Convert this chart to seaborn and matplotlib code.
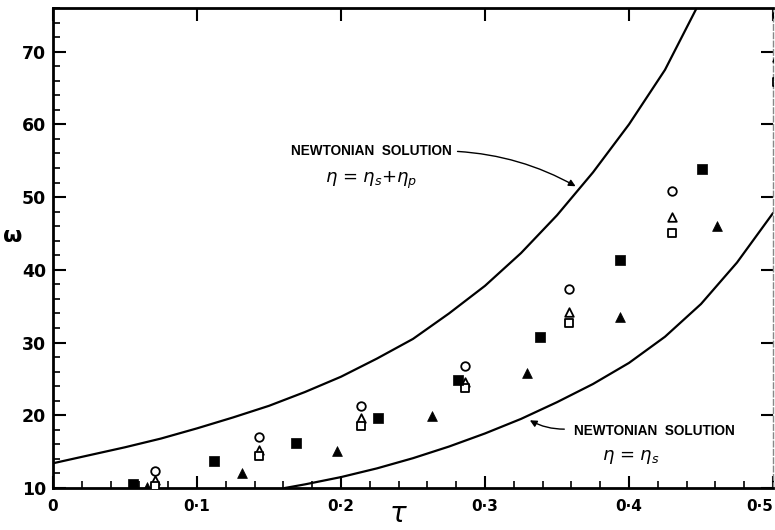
import numpy as np
import pandas as pd
import matplotlib
matplotlib.use("Agg")
import matplotlib.pyplot as plt
import seaborn as sns

# ---- data ----
upper_tau = [0.000, 0.025, 0.050, 0.075, 0.100, 0.125, 0.150, 0.175, 0.200, 0.225,
             0.250, 0.275, 0.300, 0.325, 0.350, 0.375, 0.400, 0.425, 0.447]
upper_w = [13.4, 14.5, 15.6, 16.8, 18.2, 19.7, 21.3, 23.2, 25.3, 27.8,
           30.5, 34.0, 37.8, 42.3, 47.5, 53.4, 60.0, 67.5, 76.0]

lower_tau = [0.161, 0.175, 0.200, 0.225, 0.250, 0.275, 0.300, 0.325, 0.350, 0.375,
             0.400, 0.425, 0.450, 0.475, 0.500]
lower_w = [10.0, 10.5, 11.5, 12.7, 14.1, 15.7, 17.5, 19.5, 21.8, 24.3,
           27.2, 30.8, 35.3, 41.0, 47.8]

open_tau = [0.071, 0.143, 0.214, 0.286, 0.358, 0.430, 0.503]
circle_w = [12.3, 17.0, 21.3, 26.8, 37.3, 50.8, 75.0]
otri_w = [11.1, 15.2, 19.6, 24.6, 34.2, 47.2, 69.3]
osq_w = [10.3, 14.4, 18.5, 23.8, 32.7, 45.1, 65.8]

fsq_tau = [0.0556, 0.112, 0.169, 0.226, 0.281, 0.338, 0.394, 0.451]
fsq_w = [10.55, 13.7, 16.2, 19.6, 24.9, 30.8, 41.4, 53.9]

ftri_tau = [0.065, 0.131, 0.197, 0.263, 0.329, 0.394, 0.461]
ftri_w = [10.1, 12.1, 15.1, 19.9, 25.8, 33.5, 46.0]

xticks = [0, 0.1, 0.2, 0.3, 0.4, 0.5]
xticklabels = ["0", "0·1", "0·2", "0·3", "0·4", "0·5"]
yticks = [10, 20, 30, 40, 50, 60, 70]

# ---- figure ----
sns.set_style("ticks")
plt.rcParams['font.family'] = ['DejaVu Sans']
for k in ["text.color", "axes.labelcolor", "xtick.color", "ytick.color", "axes.edgecolor"]:
    plt.rcParams[k] = "black"

fig = plt.figure(figsize=(7.75, 5.30), dpi=100)
ax = fig.add_axes([53/775, 42/530, 720/775, 480/530])

sns.lineplot(x=upper_tau, y=upper_w, ax=ax, color="black", lw=1.6, sort=False)
sns.lineplot(x=lower_tau, y=lower_w, ax=ax, color="black", lw=1.6, sort=False)

ms = 38
common = dict(ax=ax, s=ms, legend=False, zorder=3, clip_on=True)
sns.scatterplot(x=open_tau, y=circle_w, marker="o", facecolor="white",
                edgecolor="black", linewidth=1.3, **common)
sns.scatterplot(x=open_tau, y=otri_w, marker="^", facecolor="white",
                edgecolor="black", linewidth=1.3, **common)
sns.scatterplot(x=open_tau, y=osq_w, marker="s", facecolor="white",
                edgecolor="black", linewidth=1.3, **common)
sns.scatterplot(x=fsq_tau, y=fsq_w, marker="s", color="black",
                edgecolor="black", linewidth=0.5, s=46, ax=ax, legend=False, zorder=3)
sns.scatterplot(x=ftri_tau, y=ftri_w, marker="^", color="black",
                edgecolor="black", linewidth=0.5, s=50, ax=ax, legend=False, zorder=3)

ax.set_xlim(0, 0.5)
ax.set_ylim(10, 76)
ax.set_xticks(xticks)
ax.set_xticklabels(xticklabels, fontsize=11, fontweight="bold")
ax.get_xticklabels()[-1].set_horizontalalignment("right")
ax.set_yticks(yticks)
ax.set_yticklabels([str(v) for v in yticks], fontsize=12.5, fontweight="bold")
ax.set_xticks(np.arange(0, 0.5001, 0.02), minor=True)
ax.set_yticks(np.arange(10, 76.01, 2), minor=True)

ax.tick_params(which="major", direction="in", length=9, width=1.5,
               top=True, right=True, pad=5, colors="black")
ax.tick_params(which="minor", direction="in", length=5, width=1.2,
               top=False, right=False, colors="black")
ax.tick_params(axis="x", which="major", pad=8)

for s in ["left", "bottom", "top"]:
    ax.spines[s].set_linewidth(2.0)
    ax.spines[s].set_color("black")
ax.spines["right"].set_linewidth(1.0)
ax.spines["right"].set_color("#888888")
ax.spines["right"].set_linestyle((0, (4, 2)))

ax.set_xlabel("")
ax.set_ylabel("")
fig.text(13/775, 1 - 236/530, "ω", fontsize=16, ha="center", va="center",
         fontweight="bold")
fig.text(398/775, 1 - 514/530, r"$\tau$", fontsize=20, ha="center", va="center")

# annotations
lab_font = dict(family="Liberation Sans", fontweight="bold", fontsize=9.8)
ax.text(0.1650, 10 + (488 - 152) / 7.26, "NEWTONIAN  SOLUTION", ha="left",
        va="center", **lab_font)
ax.text(0.1890, 10 + (488 - 181) / 7.26, r"$\eta$ = $\eta_s$+$\eta_p$", ha="left",
        va="center", fontsize=13)
ax.annotate("", xy=(0.3646, 51.3), xytext=(0.2790, 56.3),
            arrowprops=dict(arrowstyle="-|>", color="black", lw=1.0,
                            connectionstyle="arc3,rad=-0.12", mutation_scale=10))

ax.text(0.3618, 10 + (488 - 431) / 7.26, "NEWTONIAN  SOLUTION", ha="left",
        va="center", **lab_font)
ax.text(0.3810, 10 + (488 - 457) / 7.26, r"$\eta$ = $\eta_s$", ha="left",
        va="center", fontsize=13)
ax.annotate("", xy=(0.3295, 19.5), xytext=(0.3570, 18.1),
            arrowprops=dict(arrowstyle="-|>", color="black", lw=1.0,
                            connectionstyle="arc3,rad=-0.15", mutation_scale=10))

fig.savefig("out.png", dpi=100)
